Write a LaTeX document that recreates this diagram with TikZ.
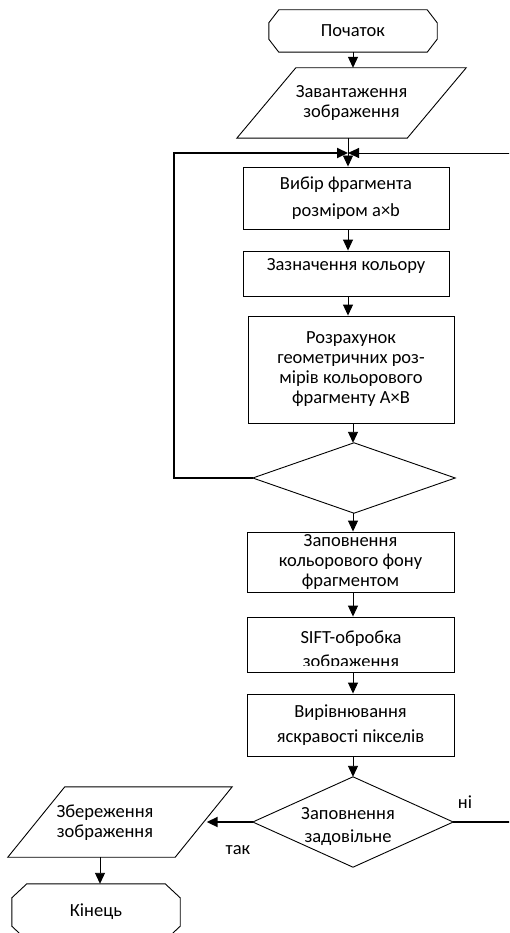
\documentclass[tikz,border=0pt]{standalone}
\usepackage{fontspec}
\setmainfont{Carlito}
\usetikzlibrary{arrows.meta,calc}
\begin{document}
\begin{tikzpicture}[x=1pt,y=-1pt,
  ln/.style={line width=0.9pt},
  thk/.style={line width=2pt},
  arr/.style={-{Triangle[length=11pt,width=10pt]}},
  shp/.style={draw=none,inner sep=0pt},
  box/.style={draw,line width=0.9pt,inner sep=0pt,minimum width=206pt},
  txt/.style={align=center,inner sep=0pt,font=\fontsize{18.5}{20}\selectfont}]
\clip (0,0) rectangle (509,933);
\fill[white] (0,0) rectangle (509,933);
% start
\node[shp,txt,minimum width=168pt,minimum height=42pt] (st) at (353,31) {Початок};
\draw[ln] ($(st.north west)+(10,0)$) -- ($(st.north east)+(-10,0)$) -- ($(st.north east)+(0,13)$) -- ($(st.south east)+(0,-13)$) -- ($(st.south east)+(-10,0)$) -- ($(st.south west)+(10,0)$) -- ($(st.south west)+(0,-13)$) -- ($(st.north west)+(0,13)$) -- cycle;
% input
\node[shp,txt,minimum width=170pt,minimum height=70pt] (p1) at (351.5,103) {Завантаження\\зображення};
\draw[ln] ($(p1.north west)+(29.5,0)$) -- ($(p1.north east)+(29.5,0)$) -- ($(p1.south east)+(-29.5,0)$) -- ($(p1.south west)+(-29.5,0)$) -- cycle;
% boxes
\node[box,txt,minimum height=62pt,font=\fontsize{18.5}{27}\selectfont] (b1) at (346,198) {Вибір фрагмента\\розміром a×b};
\node[box,minimum height=45pt] (b2) at (346,273.5) {};
\node[txt] (b2t) at (346,266) {Зазначення кольору};
\node[box,txt,minimum height=107pt] (b3) at (351,369.5) {Розрахунок\\геометричних роз-\\мірів кольорового\\фрагменту A×B};
\node[shp,minimum width=202pt,minimum height=70pt] (d1) at (354,478) {};
\draw[ln] (d1.north) -- (d1.east) -- (d1.south) -- (d1.west) -- cycle;
\node[box,txt,minimum width=207pt,minimum height=60pt] (b4) at (350.5,562) {Заповнення\\кольорового фону\\фрагментом};
\node[box,minimum width=207pt,minimum height=55pt] (b5) at (350.5,644.5) {};
\begin{scope}
\clip (b5.north west) rectangle ($(b5.south east)+(0,-7)$);
\node[txt,font=\fontsize{18.5}{24}\selectfont] (b5t) at (351,650.5) {SIFT-обробка\\зображення};
\end{scope}
\node[box,txt,minimum width=207pt,minimum height=62pt,font=\fontsize{18.5}{25}\selectfont] (b6) at (350.5,725) {Вирівнювання\\яскравості пікселів};
\node[shp,minimum width=200pt,minimum height=90pt] (d2) at (353,822) {};
\draw[ln] (d2.north) -- (d2.east) -- (d2.south) -- (d2.west) -- cycle;
\node[txt,font=\fontsize{18.5}{23}\selectfont] (d2t) at (348,826.5) {Заповнення\\задовільне};
% output
\node[shp,minimum width=167pt,minimum height=70pt] (p2) at (120,822) {};
\draw[ln] ($(p2.north west)+(28.5,0)$) -- ($(p2.north east)+(28.5,0)$) -- ($(p2.south east)+(-28.5,0)$) -- ($(p2.south west)+(-28.5,0)$) -- cycle;
\node[txt] (p2t) at (105,822.5) {Збереження\\зображення};
% end
\node[shp,txt,minimum width=168pt,minimum height=56pt] (en) at (96,912) {Кінець};
\draw[ln] ($(en.north west)+(15,0)$) -- ($(en.north east)+(-15,0)$) -- ($(en.north east)+(0,14)$) -- ($(en.south east)+(0,-14)$) -- ($(en.south east)+(-15,0)$) -- ($(en.south west)+(15,0)$) -- ($(en.south west)+(0,-14)$) -- ($(en.north west)+(0,14)$) -- cycle;
% labels
\node[txt] (ni) at (465,802) {ні};
\node[txt] (tak) at (238,850) {так};
% connectors
\coordinate (m) at (348,153);
\coordinate (ax) at (353,0);
\coordinate (ex) at (100,0);
\coordinate (l1) at (174,478);
\coordinate (l2) at (174,153);
\coordinate (r1) at (520,822);
\coordinate (r2) at (520,153);
\draw[ln,arr] (st.south) -- (st.south |- p1.north);
\draw[ln] (p1.south -| m) -- (m);
\draw[ln,arr] (m) -- (m |- b1.north);
\draw[ln,arr] (b1.south -| m) -- (m |- b2.north);
\draw[ln,arr] (b2.south -| m) -- (m |- b3.north);
\draw[ln,arr] (b3.south -| ax) -- (ax |- d1.north);
\draw[ln,arr] (d1.south -| ax) -- (ax |- b4.north);
\draw[ln,arr] (b4.south -| ax) -- (ax |- b5.north);
\draw[ln,arr] (b5.south -| ax) -- (ax |- b6.north);
\draw[ln,arr] (b6.south -| ax) -- (ax |- d2.north);
\draw[thk,arr] (d1.west) -- (l1) -- (l2) -- (m);
\draw[thk] (d2.east) -- (r1);
\draw[ln,arr] (r1) -- (r2) -- (m);
\draw[thk,arr] (d2.west) -- ($(p2.east)+(3,0)$);
\draw[ln,arr] (p2.south -| ex) -- (ex |- en.north);
\end{tikzpicture}
\end{document}
